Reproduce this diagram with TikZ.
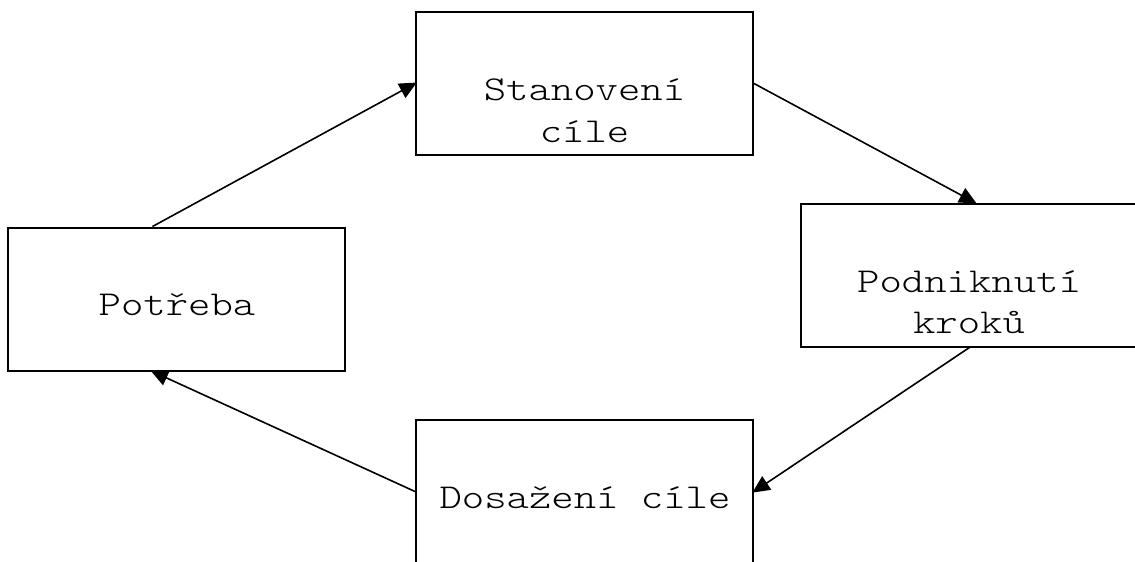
\documentclass[tikz,border=0pt]{standalone}
\usepackage{fontspec}
% thin typewriter face, widened to a Courier-like set width
\newfontfamily\cour{lmmonolt10-regular.otf}[FakeStretch=1.22]
\usetikzlibrary{arrows.meta,backgrounds}
\begin{document}
\begin{tikzpicture}[x=0.75pt,y=-0.75pt,
  box/.style={draw,fill=white,line width=1.5pt,minimum width=252.75pt,
    minimum height=107.25pt,inner sep=0pt},
  lbl/.style={font=\cour\fontsize{26.2}{32}\selectfont,anchor=base,inner sep=0pt},
  arr/.style={line width=1.2pt,shorten >=-1.5pt,
    -{Triangle[length=13pt,width=12pt]}}]
\path[use as bounding box,clip] (0,0) rectangle (1135,561);

% the four stages of the cycle
\node[box] (pot)  at (176.5,299)   {};
\node[box] (stan) at (584.5,83.5)  {};
\node[box] (podn) at (969.5,275)   {};
\node[box] (dos)  at (584.5,491.5) {};

% stage names
\node[lbl] (potA)  at (177,315)   {Potřeba};
\node[lbl] (stanA) at (584.5,100) {Stanovení};
\node[lbl] (stanB) at (584.5,142) {cíle};
\node[lbl] (podnA) at (969,292)   {Podniknutí};
\node[lbl] (podnB) at (969,333)   {kroků};
\node[lbl] (dosA)  at (585,508)   {Dosažení cíle};

% connectors, tucked under the boxes
\begin{pgfonlayer}{background}
\draw[arr] ([xshift=-18pt]pot.north) -- (stan.west);
\draw[arr] (stan.east) -- ([xshift=4pt]podn.north);
\draw[arr] (podn.south) -- (dos.east);
\draw[arr] (dos.west) -- ([xshift=-18pt]pot.south);
\end{pgfonlayer}
\end{tikzpicture}
\end{document}
